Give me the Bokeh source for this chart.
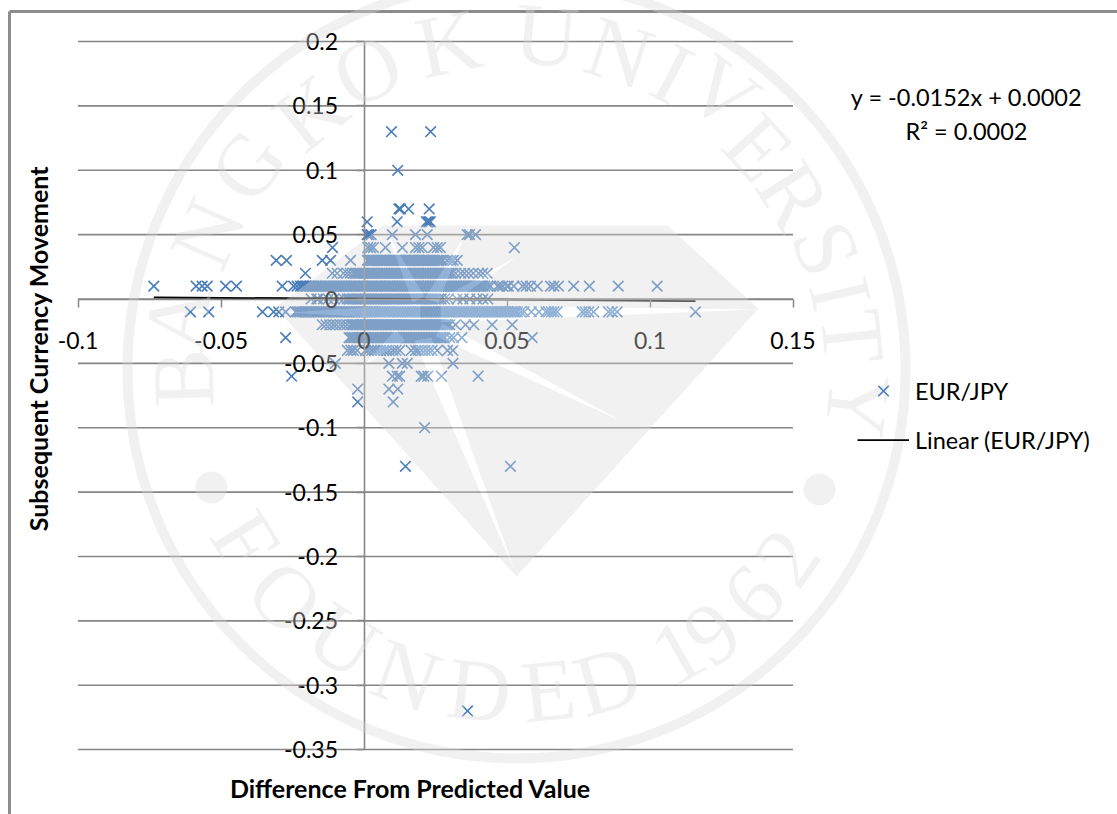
import math
from bokeh.plotting import figure
from bokeh.embed import file_html
from bokeh.resources import INLINE
from bokeh.models import FixedTicker, Label, Legend, LegendItem
from bokeh.core.properties import value

# ---------- data ----------
x_ticks = [-0.1, -0.05, 0, 0.05, 0.1, 0.15]
y_ticks = [0.2, 0.15, 0.1, 0.05, 0, -0.05, -0.1, -0.15, -0.2, -0.25, -0.3, -0.35]
x_tick_labels = ["-0.1", "-0.05", "0", "0.05", "0.1", "0.15"]
y_tick_labels = ["0.2", "0.15", "0.1", "0.05", "0", "-0.05", "-0.1", "-0.15", "-0.2", "-0.25", "-0.3", "-0.35"]

x_at_p013 = [0.0096, 0.0233]
x_at_p010 = [0.0118]
x_at_p007 = [0.0122, 0.0127, 0.0156, 0.0228]
x_at_p006 = [0.0011, 0.0116, 0.0218, 0.0223, 0.0228, 0.0232]
x_at_p005 = [0.0011, 0.0017, 0.0025, 0.0099, 0.018, 0.0221, 0.0361, 0.0369, 0.039]
x_at_p004 = [-0.011, 0.0013, 0.0023, 0.0033, 0.0075, 0.0134, 0.018, 0.0192, 0.0204, 0.0243, 0.0256, 0.0267, 0.0526]
x_at_p003 = [-0.0307, -0.0271, -0.0146, -0.0117, -0.0047, 0.0012, 0.0021, 0.0029, 0.0036, 0.0044, 0.0053, 0.0061,
             0.0068, 0.0075, 0.0088, 0.0097, 0.0106, 0.0113, 0.0121, 0.013, 0.0138, 0.0147, 0.0155, 0.0162, 0.0171,
             0.0179, 0.0188, 0.0196, 0.0205, 0.0212, 0.0221, 0.0229, 0.0241, 0.0255, 0.0268, 0.0276, 0.0291, 0.0303,
             0.0312, 0.0326,
             0.0016, 0.0025, 0.0032, 0.004, 0.0048, 0.0057, 0.0065, 0.0072, 0.0081, 0.0092, 0.0102, 0.011, 0.0117,
             0.0125, 0.0134, 0.0142, 0.0151, 0.0159, 0.0167, 0.0175, 0.0184, 0.0192, 0.0201, 0.0208, 0.0217, 0.0225,
             0.0235, 0.0248, 0.0262]
x_at_p002 = [-0.0205, -0.0111, -0.0094, -0.0072, -0.0059, -0.0048, -0.0037, -0.0026, -0.0014, -0.0003, 0.0009, 0.0021,
             0.0032, 0.0044, 0.0055, 0.0067, 0.0078, 0.0089, 0.0101, 0.0112, 0.0124, 0.0135, 0.0147, 0.0158, 0.0169,
             0.0181, 0.0192, 0.0204, 0.0215, 0.0226, 0.0238, 0.0249, 0.0261, 0.0272, 0.0284, 0.0296, 0.0309, 0.0321,
             0.0338, 0.0351, 0.0366, 0.0382, 0.0401, 0.0415, 0.0431,
             -0.0031, -0.002, -0.0008, 0.0003, 0.0015, 0.0026, 0.0038, 0.0049, 0.0061, 0.0072, 0.0083, 0.0095, 0.0106,
             0.0118, 0.0129, 0.0141, 0.0152, 0.0163, 0.0175, 0.0186, 0.0198, 0.0209, 0.022, 0.0232, 0.0243, 0.0255,
             0.0266, 0.0278, 0.029, 0.0302]
x_at_p001 = [-0.0735, -0.0587, -0.0566, -0.0548, -0.0484, -0.0446, -0.0286, -0.0246, -0.0234, -0.0222, -0.0211, -0.0199,
             -0.0188, -0.0176, -0.0165, -0.0153, -0.0142, -0.013, -0.0119, -0.0107, -0.0096, -0.0084, -0.0073, -0.0061,
             -0.005, -0.0038, -0.0027, -0.0015, -0.0004, 0.0008, 0.0019, 0.0031, 0.0042, 0.0054, 0.0065, 0.0077, 0.0088,
             0.01, 0.0111, 0.0123, 0.0134, 0.0146, 0.0157, 0.0169, 0.018, 0.0192, 0.0203, 0.0215, 0.0226, 0.0238, 0.0249,
             0.0261, 0.0272, 0.0284, 0.0295, 0.0307, 0.0318, 0.033, 0.0341, 0.0353, 0.0364, 0.0376, 0.0387, 0.0399,
             0.041, 0.0422, 0.0433, 0.0442, 0.0467, 0.0475, 0.0485, 0.05, 0.0505, 0.0524, 0.0554, 0.0567, 0.0582, 0.0606,
             0.0652, 0.0664, 0.068, 0.0733, 0.0788, 0.0889, 0.1025,
             -0.0216, -0.0205, -0.0193, -0.0182, -0.017, -0.0159, -0.0147, -0.0136, -0.0124, -0.0113, -0.0101, -0.009,
             -0.0078, -0.0067, -0.0055, -0.0044, -0.0032, -0.0021, -0.0009, 0.0002, 0.0014, 0.0025, 0.0037, 0.0048,
             0.006, 0.0071, 0.0083, 0.0094, 0.0106, 0.0117, 0.0129, 0.014, 0.0152, 0.0163, 0.0175, 0.0186, 0.0198,
             0.0209, 0.0221, 0.0232, 0.0244, 0.0255, 0.0267, 0.0278, 0.029, 0.0301, 0.0313, 0.0324, 0.0336, 0.0347,
             0.0359, 0.037, 0.0382, 0.0393, 0.0405, 0.0416]
x_at_zero = [-0.0185, -0.0165, -0.016, -0.0142, -0.0125, -0.0105, -0.0085, -0.007, -0.0059, -0.0047, -0.0036, -0.0024,
             -0.0013, -0.0001, 0.001, 0.0022, 0.0033, 0.0045, 0.0056, 0.0068, 0.0079, 0.0091, 0.0102, 0.0114, 0.0125,
             0.0137, 0.0148, 0.016, 0.0171, 0.0183, 0.0194, 0.0206, 0.0217, 0.0229, 0.024, 0.0252, 0.027, 0.0295, 0.0325,
             0.0346, 0.037, 0.0395, 0.0416, 0.0433,
             -0.0053, -0.0041, -0.003, -0.0018, -0.0007, 0.0005, 0.0016, 0.0028, 0.0039, 0.0051, 0.0062, 0.0074, 0.0085,
             0.0097, 0.0108, 0.012, 0.0131, 0.0143, 0.0154, 0.0166, 0.0177, 0.0189, 0.02, 0.0212, 0.0223, 0.0235,
             0.0246, 0.0261, 0.0282]
x_at_m001 = [-0.0607, -0.0543, -0.0355, -0.0316, -0.0298, -0.0274, -0.0239, -0.0234, -0.0223, -0.0211, -0.02, -0.0188,
             -0.0177, -0.0165, -0.0154, -0.0142, -0.0131, -0.0119, -0.0108, -0.0096, -0.0085, -0.0073, -0.0062, -0.005,
             -0.0039, -0.0027, -0.0016, -0.0004, 0.0007, 0.0019, 0.003, 0.0042, 0.0053, 0.0065, 0.0076, 0.0088, 0.0099,
             0.0111, 0.0122, 0.0134, 0.0145, 0.0157, 0.0168, 0.018, 0.0191, 0.0203, 0.0214, 0.0226, 0.0237, 0.0249,
             0.026, 0.0272, 0.0283, 0.0295, 0.0306, 0.0318, 0.0329, 0.0341, 0.0352, 0.0364, 0.0375, 0.0387, 0.0398,
             0.041, 0.0421, 0.0433, 0.0444, 0.0456, 0.0467, 0.0479, 0.049, 0.0502, 0.0513, 0.0525, 0.0536, 0.0548, 0.056,
             0.0585, 0.0612, 0.0636, 0.0645, 0.0655, 0.0664, 0.0675, 0.0763, 0.0774, 0.0786, 0.0803, 0.0855, 0.0868,
             0.0885, 0.1159,
             -0.0228, -0.0217, -0.0205, -0.0194, -0.0182, -0.0171, -0.0159, -0.0148, -0.0136, -0.0125, -0.0113, -0.0102,
             -0.009, -0.0079, -0.0067, -0.0056, -0.0044, -0.0033, -0.0021, -0.001, 0.0001, 0.0013, 0.0024, 0.0036,
             0.0047, 0.0059, 0.007, 0.0082, 0.0093, 0.0105, 0.0116, 0.0128, 0.0139, 0.0151, 0.0162, 0.0174, 0.0185,
             0.0197, 0.0208, 0.022, 0.0231, 0.0243, 0.0254, 0.0266, 0.0277, 0.0289, 0.03, 0.0312, 0.0323, 0.0335,
             0.0346, 0.0358, 0.0369, 0.0381, 0.0392, 0.0404, 0.0415, 0.0427, 0.0438, 0.045, 0.0461, 0.0473, 0.0484,
             0.0496, 0.0507, 0.0519, 0.053]
x_at_m002 = [-0.0146, -0.0133, -0.012, -0.0108, -0.0097, -0.0083, -0.0071, -0.0059, -0.0047, -0.0035, -0.0024, -0.0012,
             -0.0001, 0.0011, 0.0022, 0.0034, 0.0045, 0.0057, 0.0068, 0.008, 0.0091, 0.0103, 0.0114, 0.0126, 0.0137,
             0.0149, 0.016, 0.0172, 0.0183, 0.0195, 0.0206, 0.0218, 0.0229, 0.0241, 0.0252, 0.0264, 0.0275, 0.0287, 0.03,
             0.032, 0.0355, 0.0384, 0.0448, 0.0518,
             -0.0041, -0.0029, -0.0018, -0.0006, 0.0005, 0.0017, 0.0028, 0.004, 0.0051, 0.0063, 0.0074, 0.0086, 0.0097,
             0.0109, 0.012, 0.0132, 0.0143, 0.0155, 0.0166, 0.0178, 0.0189, 0.0201, 0.0212, 0.0224, 0.0235, 0.0247,
             0.0258, 0.027, 0.0281, 0.0293]
x_at_m003 = [-0.0274, -0.0052, -0.004, -0.0029, -0.0017, -0.0006, 0.0006, 0.0017, 0.0029, 0.004, 0.0052, 0.0063, 0.0075,
             0.0086, 0.0098, 0.0109, 0.0121, 0.0132, 0.0144, 0.0155, 0.0167, 0.0178, 0.019, 0.0201, 0.0213, 0.0224,
             0.0236, 0.0247, 0.0259, 0.027, 0.0282, 0.03, 0.0313, 0.0342, 0.0588,
             -0.0046, -0.0034, -0.0023, -0.0011, 0.0, 0.0012, 0.0023, 0.0035, 0.0046, 0.0058, 0.0069, 0.0081, 0.0092,
             0.0104, 0.0115, 0.0127, 0.0138, 0.015, 0.0161, 0.0173, 0.0184, 0.0196, 0.0207, 0.0219, 0.023, 0.0242,
             0.0253, 0.0265, 0.0276]
x_at_m004 = [-0.0058, -0.0046, -0.0037, -0.0024, 0.0005, 0.0015, 0.0027, 0.0037, 0.0048, 0.0058, 0.0069, 0.0078, 0.0088,
             0.0101, 0.0112, 0.0125, 0.0165, 0.018, 0.019, 0.0202, 0.0214, 0.0226, 0.0238, 0.0256, 0.0292, 0.0311]
x_at_m005 = [-0.01, 0.0087, 0.0134, 0.0151, 0.0311]
x_at_m006 = [-0.0253, 0.0099, 0.0116, 0.0125, 0.02, 0.0209, 0.0223, 0.0271, 0.0399]
x_at_m007 = [-0.0022, 0.0087, 0.0118]
x_at_m008 = [-0.0022, 0.0102]
x_at_m010 = [0.0212]
x_at_m013 = [0.0145, 0.0512]
x_at_m032 = [0.0362]

levels = [(0.13, x_at_p013), (0.10, x_at_p010), (0.07, x_at_p007), (0.06, x_at_p006), (0.05, x_at_p005),
          (0.04, x_at_p004), (0.03, x_at_p003), (0.02, x_at_p002), (0.01, x_at_p001), (0.0, x_at_zero),
          (-0.01, x_at_m001), (-0.02, x_at_m002), (-0.03, x_at_m003), (-0.04, x_at_m004), (-0.05, x_at_m005),
          (-0.06, x_at_m006), (-0.07, x_at_m007), (-0.08, x_at_m008), (-0.10, x_at_m010), (-0.13, x_at_m013),
          (-0.32, x_at_m032)]

trend_slope = -0.0152
trend_intercept = 0.0002

# ---------- layout: page pixels <-> data ----------
W, H = 1117, 814
PAGE = 0
X0, SX = 363.5, 2860.0
Y0, SY = 298.5, 1287.3

def dx(px):
    return (px - X0) / SX

def dy(py):
    return (Y0 - py) / SY

GREY = "#868686"
BLUE = "#4A7EBB"
FONT = "Lato"

p = figure(width=W, height=H, output_backend="svg", toolbar_location=None,
           x_range=(dx(PAGE), dx(PAGE + W)), y_range=(dy(PAGE + H), dy(PAGE)),
           min_border=0, outline_line_color=None, background_fill_color="white",
           border_fill_color="white")
p.grid.visible = False

# horizontal gridlines, only as wide as the x axis
p.segment(x0=[x_ticks[0]] * len(y_ticks), x1=[x_ticks[-1]] * len(y_ticks), y0=y_ticks, y1=y_ticks,
          line_color=GREY, line_width=1.6)

xs, ys = [], []
for level, row in levels:
    xs += row
    ys += [level] * len(row)
pts = p.scatter(xs, ys, marker="x", size=15, line_color=BLUE, line_width=1.6, fill_color=None)

t0, t1 = min(xs), max(xs)
trend = p.line([t0, t1], [trend_slope * t0 + trend_intercept, trend_slope * t1 + trend_intercept],
               line_color="black", line_width=1.75)

for ax, ticks, labels, bounds in ((p.xaxis[0], x_ticks, x_tick_labels, (x_ticks[0], x_ticks[-1])),
                                  (p.yaxis[0], y_ticks, y_tick_labels, (y_ticks[-1], y_ticks[0]))):
    ax.fixed_location = 0
    ax.ticker = FixedTicker(ticks=ticks)
    ax.major_label_overrides = dict(zip(ticks, labels))
    ax.bounds = bounds
    ax.axis_line_color = GREY
    ax.axis_line_width = 1.6
    ax.major_tick_line_color = GREY
    ax.major_tick_line_width = 1.5
    ax.major_tick_in = 0
    ax.major_tick_out = 8
    ax.minor_tick_line_color = None
    ax.major_label_text_font = FONT
    ax.major_label_text_font_size = "23px"
    ax.major_label_text_color = "black"
p.xaxis[0].major_label_standoff = 25
p.yaxis[0].major_label_standoff = 18

# outer chart border
p.segment(x0=[dx(9), dx(9)], x1=[dx(9), dx(PAGE + W)], y0=[dy(PAGE + H), dy(11)], y1=[dy(11), dy(11)],
          line_color="#8C8C8C", line_width=3)

def add_label(text, page_x, page_y, size, bold=False, angle=0.0):
    p.add_layout(Label(x=page_x - PAGE, y=H - (page_y - PAGE), x_units="screen", y_units="screen",
                       text=text, text_font=FONT, text_font_size=size, text_align="center",
                       text_baseline="middle", text_color="black", angle=angle,
                       text_font_style="bold" if bold else "normal"))

add_label("Difference From Predicted Value", 410, 787, "25px", bold=True)
add_label("Subsequent Currency Movement", 37, 348, "25px", bold=True, angle=math.pi / 2)
add_label("y = -0.0152x + 0.0002", 966, 96, "23.5px")
add_label("R² = 0.0002", 966, 130, "23.5px")

legend = Legend(items=[LegendItem(label="EUR/JPY", renderers=[pts]),
                       LegendItem(label="Linear (EUR/JPY)", renderers=[trend])],
                location=(857 - PAGE, H - (458 - PAGE)), orientation="vertical",
                glyph_width=52, glyph_height=37, label_standoff=6, spacing=12, padding=0, margin=0,
                background_fill_alpha=0, border_line_color=None,
                label_text_font=FONT, label_text_font_size="23.5px", label_text_color="black",
                label_height=22)
p.add_layout(legend, "center")

# ---------- watermark laid over the chart ----------
W_COLOR = "#D8D8D8"
W_ALPHA = 0.37
CX, CY, RING_R = 516, 369, 389

p.ellipse(x=[dx(CX)], y=[dy(CY)], width=[2 * RING_R / SX], height=[2 * RING_R / SY], fill_color=None,
          line_color=W_COLOR, line_alpha=W_ALPHA, line_width=10, level="overlay")
p.ellipse(x=[dx(211), dx(819)], y=[dy(487), dy(489)], width=[32 / SX] * 2, height=[32 / SY] * 2,
          fill_color=W_COLOR, fill_alpha=W_ALPHA, line_color=None, level="overlay")

star = [(383, 225), (667, 225), (758, 308), (516, 576), (275, 307)]
rays = [[(752, 309), (440, 305), (440, 322)],
        [(515, 257), (442, 297), (450, 304)],
        [(463, 237), (424, 298), (438, 303)],
        [(620, 420), (442, 323), (435, 336)],
        [(514, 570), (414, 340), (431, 337)],
        [(363, 365), (395, 329), (405, 340)],
        [(287, 312), (420, 303), (420, 320)],
        [(386, 231), (412, 302), (424, 296)]]

def px_x(pts_):
    return [dx(a) for a, _ in pts_]

def px_y(pts_):
    return [dy(b) for _, b in pts_]

# the rays are gaps in the grey star, with a pale veil of white over what lies beneath
p.multi_polygons(xs=[[[px_x(star)] + [px_x(r) for r in rays]]], ys=[[[px_y(star)] + [px_y(r) for r in rays]]],
                 fill_color=W_COLOR, fill_alpha=W_ALPHA, line_color=None, level="overlay")
p.patches([px_x(r) for r in rays], [px_y(r) for r in rays], fill_color="white", fill_alpha=0.4,
          line_color=None, level="overlay")

top_letters = [("B", 183, 378), ("A", 177, 318), ("N", 207, 233), ("G", 247, 165), ("K", 310, 112), ("O", 367, 70),
               ("K", 448, 43), ("U", 546, 35), ("N", 619, 52), ("I", 672, 73), ("V", 722, 92), ("E", 758, 147),
               ("R", 793, 195), ("S", 826, 248), ("I", 840, 293), ("T", 852, 336), ("Y", 857, 405)]
bottom_letters = [("F", 245, 540), ("O", 285, 597), ("U", 343, 640), ("N", 406, 675), ("D", 479, 690), ("E", 548, 690),
                  ("D", 607, 680), ("1", 677, 652), ("9", 712, 633), ("6", 753, 595), ("2", 787, 557)]

for letters, offset in ((top_letters, -math.pi / 2), (bottom_letters, math.pi / 2)):
    for ch, a, b in letters:
        theta = math.atan2(CY - b, a - CX)
        p.text(x=[dx(a)], y=[dy(b)], text=[ch], angle=[theta + offset], text_align="center", text_baseline="middle",
               text_font=value("Liberation Serif"), text_font_size="88px", text_color=W_COLOR, text_alpha=W_ALPHA,
               level="overlay")

open("out.html", "w").write(file_html(p, INLINE))
